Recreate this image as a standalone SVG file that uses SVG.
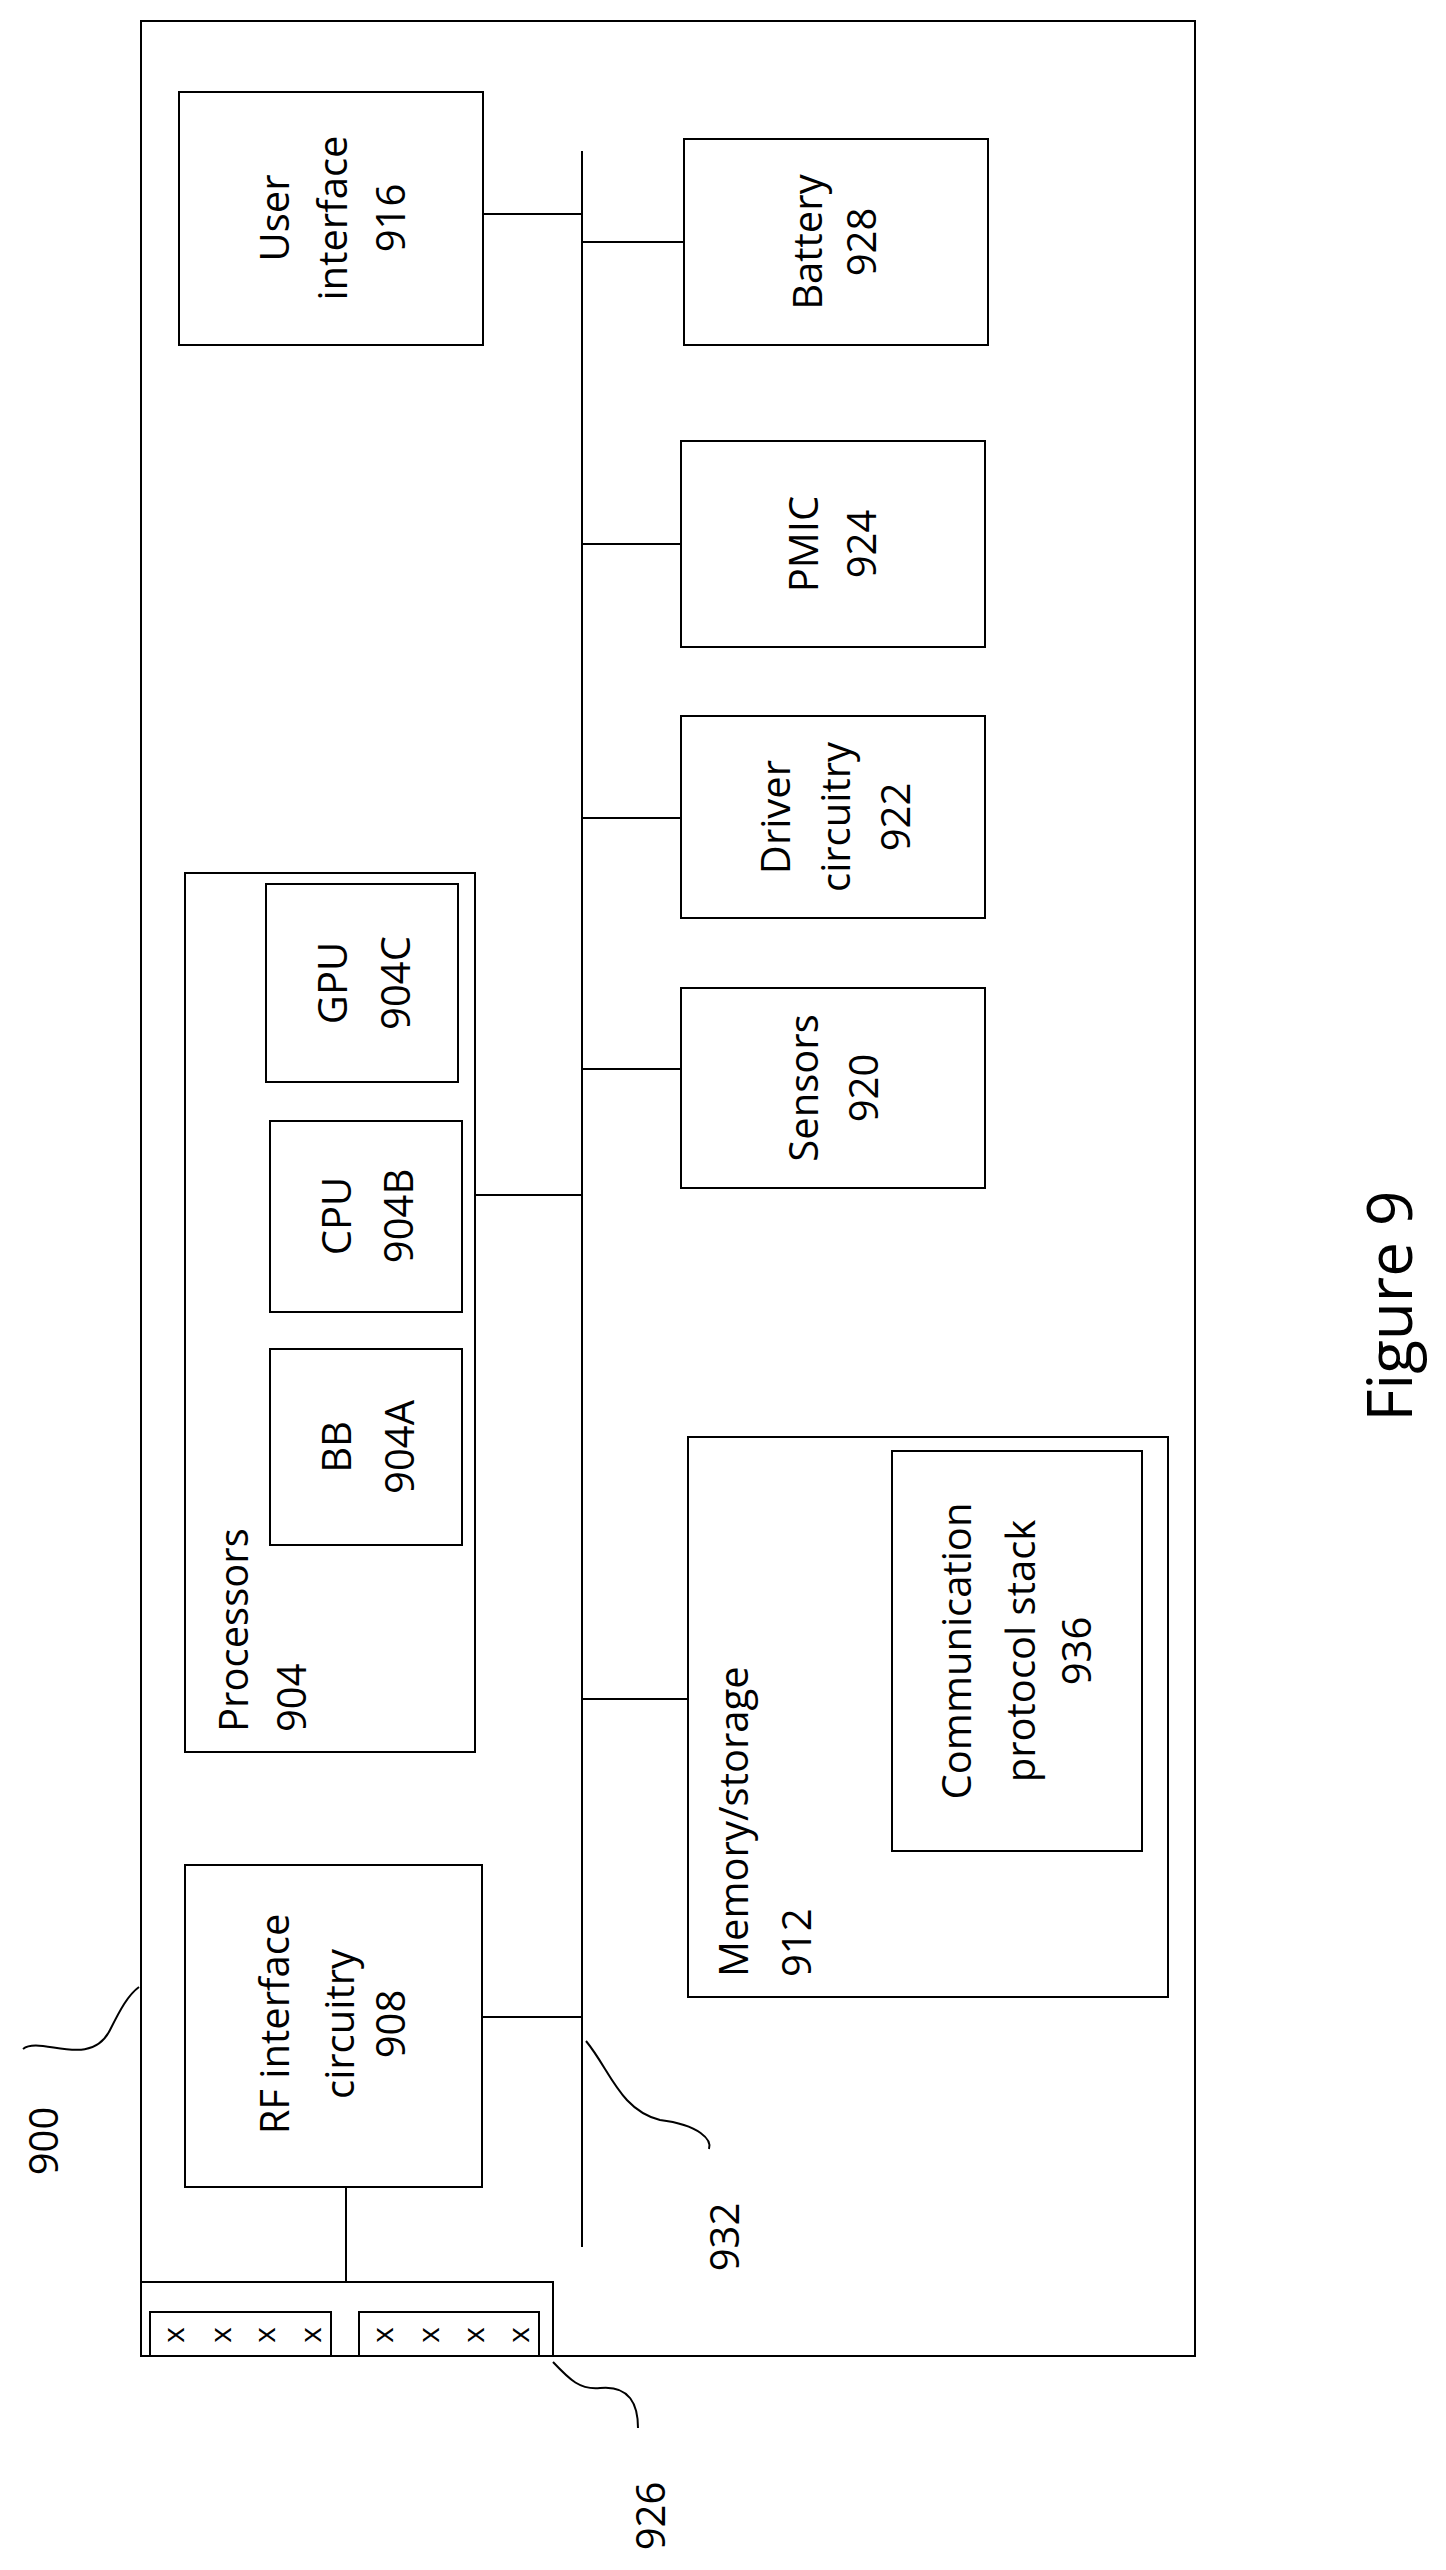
<svg xmlns="http://www.w3.org/2000/svg" width="1446" height="2570" viewBox="0 0 1446 2570">
<style>
rect,path,line{fill:none;stroke:#000;stroke-width:2}
text{font-family:"Open Sans","Liberation Sans",Arial,sans-serif;font-size:40px;fill:#000;dominant-baseline:central}
.c{text-anchor:middle}
.s{text-anchor:start}
.x{font-size:30px}
</style>
<rect x="0" y="0" width="1446" height="2570" style="stroke:none;fill:#fff"/>
<g id="device900"><rect x="141" y="21" width="1054" height="2335"/></g>
<g id="connectors">
<line x1="582" y1="151" x2="582" y2="2247"/>
<line x1="483" y1="214" x2="582" y2="214"/>
<line x1="582" y1="242" x2="684" y2="242"/>
<line x1="582" y1="544" x2="681" y2="544"/>
<line x1="582" y1="818" x2="681" y2="818"/>
<line x1="582" y1="1069" x2="681" y2="1069"/>
<line x1="475" y1="1195" x2="582" y2="1195"/>
<line x1="582" y1="1699" x2="688" y2="1699"/>
<line x1="482" y1="2017" x2="582" y2="2017"/>
<line x1="346" y1="2187" x2="346" y2="2282"/>
<path d="M23 2049 C40 2035 90 2070 110 2030 C120 2010 128 1995 139 1987"/>
<path d="M586 2041 C610 2070 620 2110 660 2120 C700 2125 712 2140 709 2149"/>
<path d="M553 2362 C570 2380 580 2390 600 2388 C630 2385 638 2405 638 2428"/>
</g>
<g id="ui916"><rect x="179" y="92" width="304" height="253"/>
<g transform="translate(0,218) rotate(-90)"><text class="c" x="0" y="273">User</text><text class="c" x="0" y="331">interface</text><text class="c" x="0" y="389">916</text></g></g>
<g id="battery928"><rect x="684" y="139" width="304" height="206"/>
<g transform="translate(0,242) rotate(-90)"><text class="c" x="0" y="806">Battery</text><text class="c" x="0" y="860">928</text></g></g>
<g id="pmic924"><rect x="681" y="441" width="304" height="206"/>
<g transform="translate(0,544) rotate(-90)"><text class="c" x="0" y="802">PMIC</text><text class="c" x="0" y="860">924</text></g></g>
<g id="driver922"><rect x="681" y="716" width="304" height="202"/>
<g transform="translate(0,817) rotate(-90)"><text class="c" x="0" y="774">Driver</text><text class="c" x="0" y="834">circuitry</text><text class="c" x="0" y="894">922</text></g></g>
<g id="sensors920"><rect x="681" y="988" width="304" height="200"/>
<g transform="translate(0,1088) rotate(-90)"><text class="c" x="0" y="802">Sensors</text><text class="c" x="0" y="862">920</text></g></g>
<g id="processors904"><rect x="185" y="873" width="290" height="879"/>
<g transform="translate(0,1732) rotate(-90)"><text class="s" x="0" y="232">Processors</text><text class="s" x="0" y="290">904</text></g></g>
<g id="gpu904C"><rect x="266" y="884" width="192" height="198"/>
<g transform="translate(0,983) rotate(-90)"><text class="c" x="0" y="331">GPU</text><text class="c" x="0" y="394">904C</text></g></g>
<g id="cpu904B"><rect x="270" y="1121" width="192" height="191"/>
<g transform="translate(0,1216) rotate(-90)"><text class="c" x="0" y="335">CPU</text><text class="c" x="0" y="397">904B</text></g></g>
<g id="bb904A"><rect x="270" y="1349" width="192" height="196"/>
<g transform="translate(0,1447) rotate(-90)"><text class="c" x="0" y="335">BB</text><text class="c" x="0" y="398">904A</text></g></g>
<g id="memory912"><rect x="688" y="1437" width="480" height="560"/>
<g transform="translate(0,1977) rotate(-90)"><text class="s" x="0" y="732">Memory/storage</text><text class="s" x="0" y="795">912</text></g></g>
<g id="stack936"><rect x="892" y="1451" width="250" height="400"/>
<g transform="translate(0,1651) rotate(-90)"><text class="c" x="0" y="955">Communication</text><text class="c" x="0" y="1019">protocol stack</text><text class="c" x="0" y="1075">936</text></g></g>
<g id="rf908"><rect x="185" y="1865" width="297" height="322"/>
<g transform="translate(0,2024) rotate(-90)"><text class="c" x="0" y="273">RF interface</text><text class="c" x="0" y="338">circuitry</text><text class="c" x="0" y="389">908</text></g></g>
<g id="antenna926"><rect x="141" y="2282" width="412" height="74"/>
<rect x="150" y="2312" width="181" height="44"/><rect x="359" y="2312" width="180" height="44"/>
<g transform="translate(0,2335) rotate(-90)">
<text class="c x" x="0" y="172">x</text><text class="c x" x="0" y="219">x</text><text class="c x" x="0" y="263">x</text><text class="c x" x="0" y="309">x</text>
<text class="c x" x="0" y="381">x</text><text class="c x" x="0" y="427">x</text><text class="c x" x="0" y="472">x</text><text class="c x" x="0" y="517">x</text></g></g>
<g id="labels">
<g transform="translate(0,2141) rotate(-90)"><text class="c" x="0" y="42">900</text></g>
<g transform="translate(0,2237) rotate(-90)"><text class="c" x="0" y="723">932</text></g>
<g transform="translate(0,2516) rotate(-90)"><text class="c" x="0" y="649">926</text></g>
<g transform="translate(0,1306) rotate(-90)"><text class="c" x="0" y="1388" style="font-size:62px">Figure 9</text></g>
</g>
</svg>
